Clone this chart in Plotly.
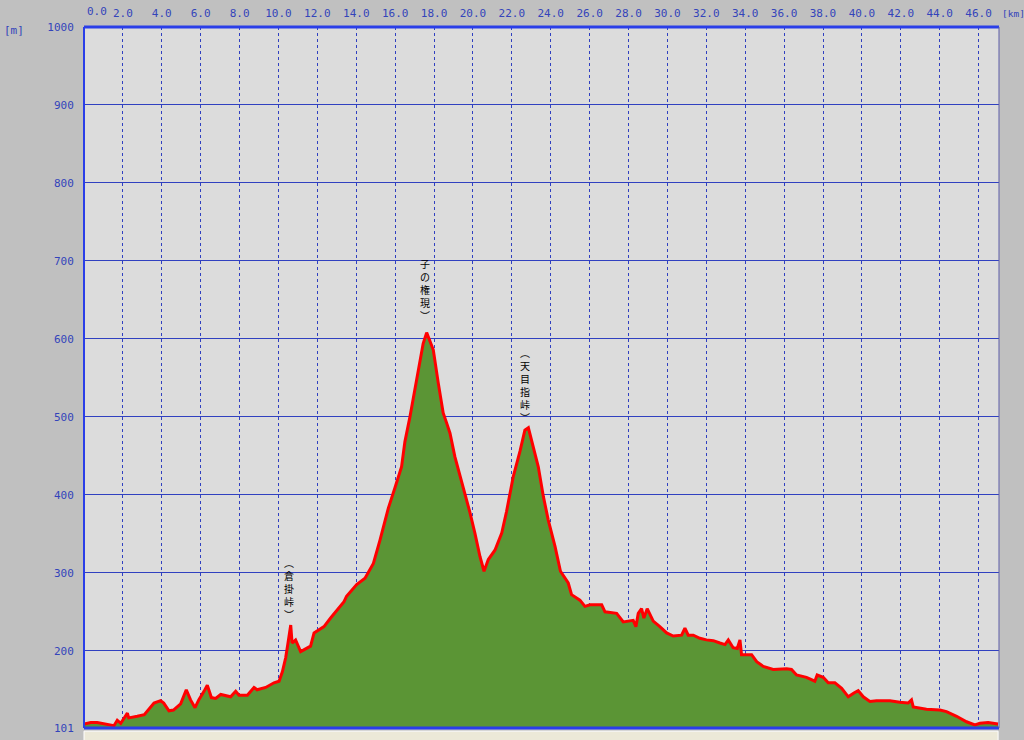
import plotly.graph_objects as go

# distance along route [km]
km = [0.0, 0.35, 0.68, 1.03, 1.54, 1.71, 1.89, 2.23, 2.3, 2.74, 3.1, 3.6, 3.94, 4.1, 4.37, 4.6,
      4.97, 5.26, 5.48, 5.71, 5.9, 6.17, 6.34, 6.55, 6.77, 7.03, 7.54, 7.8, 7.97, 8.4, 8.74, 8.9,
      9.34, 9.77, 10.03, 10.2, 10.37, 10.49, 10.63, 10.7, 10.88, 11.14, 11.65, 11.83, 12.34, 12.68,
      13.02, 13.37, 13.5, 14.02, 14.45, 14.88, 15.22, 15.65, 15.99, 16.33, 16.5, 16.76, 17.1, 17.44,
      17.62, 17.79, 17.96, 18.22, 18.47, 18.65, 18.82, 19.07, 19.33, 19.59, 19.85, 20.1, 20.36,
      20.57, 20.79, 21.13, 21.48, 21.73, 22.07, 22.42, 22.67, 22.85, 23.1, 23.36, 23.62, 23.87,
      24.22, 24.5, 24.9, 25.07, 25.5, 25.76, 26.02, 26.62, 26.79, 27.39, 27.73, 28.24, 28.38, 28.5,
      28.67, 28.79, 28.96, 29.27, 29.61, 29.96, 30.3, 30.73, 30.9, 31.07, 31.33, 31.67, 32.01,
      32.36, 32.7, 32.96, 33.13, 33.38, 33.59, 33.73, 33.81, 34.33, 34.59, 34.93, 35.44, 36.13,
      36.38, 36.64, 37.15, 37.58, 37.7, 38.01, 38.27, 38.61, 38.96, 39.3, 39.59, 39.81, 40.07,
      40.41, 40.75, 41.44, 41.95, 42.38, 42.55, 42.64, 43.32, 44.01, 44.35, 44.87, 45.38, 45.81,
      46.07, 46.49, 47.0]

# elevation [m]
elev = [106, 108, 108, 106, 104, 111, 107, 120, 114, 116, 118, 133, 136, 133, 123, 124,
        132, 150, 137, 127, 137, 148, 156, 140, 139, 144, 141, 148, 143, 143, 153, 150,
        153, 159, 161, 173, 191, 210, 233, 210, 214, 199, 206, 223, 231, 242,
        253, 263, 270, 285, 293, 312, 342, 383, 409, 436, 468, 500, 547, 594,
        608, 597, 586, 543, 505, 492, 479, 449, 426, 402, 377, 351, 321,
        302, 317, 329, 351, 379, 423, 456, 483, 486, 462, 436, 398, 368,
        334, 302, 287, 272, 265, 257, 259, 259, 250, 248, 237, 239, 231, 248,
        254, 242, 254, 238, 231, 223, 219, 220, 229, 220, 220, 216, 214,
        213, 210, 208, 214, 204, 203, 214, 195, 195, 186, 180, 176, 177,
        176, 169, 166, 161, 169, 166, 159, 159, 152, 141, 146, 149, 141,
        135, 136, 136, 134, 133, 137, 128, 125, 124, 122, 116, 109, 105,
        107, 108, 106]

x_tickvals = [2, 4, 6, 8, 10, 12, 14, 16, 18, 20, 22, 24, 26, 28, 30, 32, 34, 36, 38, 40, 42, 44, 46]
x_ticktext = [f"{v:.1f}" for v in x_tickvals]
y_tickvals = [101, 200, 300, 400, 500, 600, 700, 800, 900, 1000]
y_ticktext = [str(v) for v in y_tickvals]

# landmark labels (vertical text, top of label at given elevation)
label_names = ["︵倉掛峠︶", "子の権現︶", "︵天目指峠︶"]
label_km = [10.54, 17.53, 22.67]
label_top_elev = [324, 708, 594]

BLUE_TXT = "#3344BB"
GRID = "#3040C0"

fig = go.Figure()
fig.add_trace(go.Scatter(
    x=km, y=elev, mode="lines", fill="tozeroy",
    fillcolor="#5b9535", line=dict(color="#ff0000", width=3),
    hoverinfo="skip", showlegend=False))

for name, xk, ye in zip(label_names, label_km, label_top_elev):
    fig.add_annotation(x=xk, y=ye, xref="x", yref="y", text="<br>".join(list(name)),
                       showarrow=False, yanchor="top", xanchor="center", borderpad=0,
                       font=dict(family="Noto Sans CJK JP", size=10, color="#000000"))

fig.add_annotation(x=0.67, y=1, xref="x", yref="paper", text="0.0", showarrow=False,
                   yanchor="bottom", yshift=7, font=dict(family="DejaVu Sans Mono", size=11, color=BLUE_TXT))
fig.add_annotation(x=-0.0896, y=1, xref="paper", yref="paper", text="[m]", showarrow=False,
                   xanchor="left", yanchor="middle", yshift=-3,
                   font=dict(family="DejaVu Sans Mono", size=11, color=BLUE_TXT))
fig.add_annotation(x=1.0022, y=1, xref="paper", yref="paper", text="[km]", showarrow=False,
                   xanchor="left", yanchor="middle", yshift=14, borderpad=0,
                   font=dict(family="DejaVu Sans Mono", size=9.5, color=BLUE_TXT))

# frame
fig.add_shape(type="line", xref="paper", yref="paper", x0=0, x1=1, y0=1, y1=1,
              line=dict(color="#2a3ee8", width=3))
fig.add_shape(type="line", xref="paper", yref="paper", x0=0, x1=1, y0=0, y1=0,
              line=dict(color="#2a3ee8", width=3))
fig.add_shape(type="line", xref="paper", yref="paper", x0=0, x1=0, y0=0, y1=1,
              line=dict(color="#2a3ee8", width=2))
fig.add_shape(type="line", xref="paper", yref="paper", x0=1, x1=1, y0=0, y1=1,
              line=dict(color="#5c5ca8", width=1))
# bottom strip
fig.add_shape(type="rect", xref="paper", yref="paper", x0=0, x1=0.999, y0=-0.02, y1=-0.0045,
              fillcolor="#ECE9D8", line=dict(color="#ffffff", width=1), layer="above")

fig.update_xaxes(range=[0, 47.05], side="top", tickvals=x_tickvals, ticktext=x_ticktext,
                 ticks="outside", ticklen=5, tickcolor="#C0C0C0", automargin=False,
                 showgrid=True, gridcolor=GRID, gridwidth=1, griddash="dot",
                 zeroline=False, showline=False,
                 tickfont=dict(family="DejaVu Sans Mono", size=11, color=BLUE_TXT))
fig.update_yaxes(range=[101, 1000], tickvals=y_tickvals, ticktext=y_ticktext,
                 ticks="outside", ticklen=7, tickcolor="#C0C0C0", automargin=False,
                 showgrid=True, gridcolor=GRID, gridwidth=1,
                 zeroline=False, showline=False,
                 tickfont=dict(family="DejaVu Sans Mono", size=11, color=BLUE_TXT))

fig.update_layout(width=1024, height=740, margin=dict(l=84, r=25, t=27, b=12, autoexpand=False),
                  paper_bgcolor="#C0C0C0", plot_bgcolor="#DCDCDC", showlegend=False)

fig.write_html("out.html", config={"displayModeBar": False},
               post_script="document.body.style.margin='0';document.body.style.background='#C0C0C0';document.body.style.overflow='hidden';")
